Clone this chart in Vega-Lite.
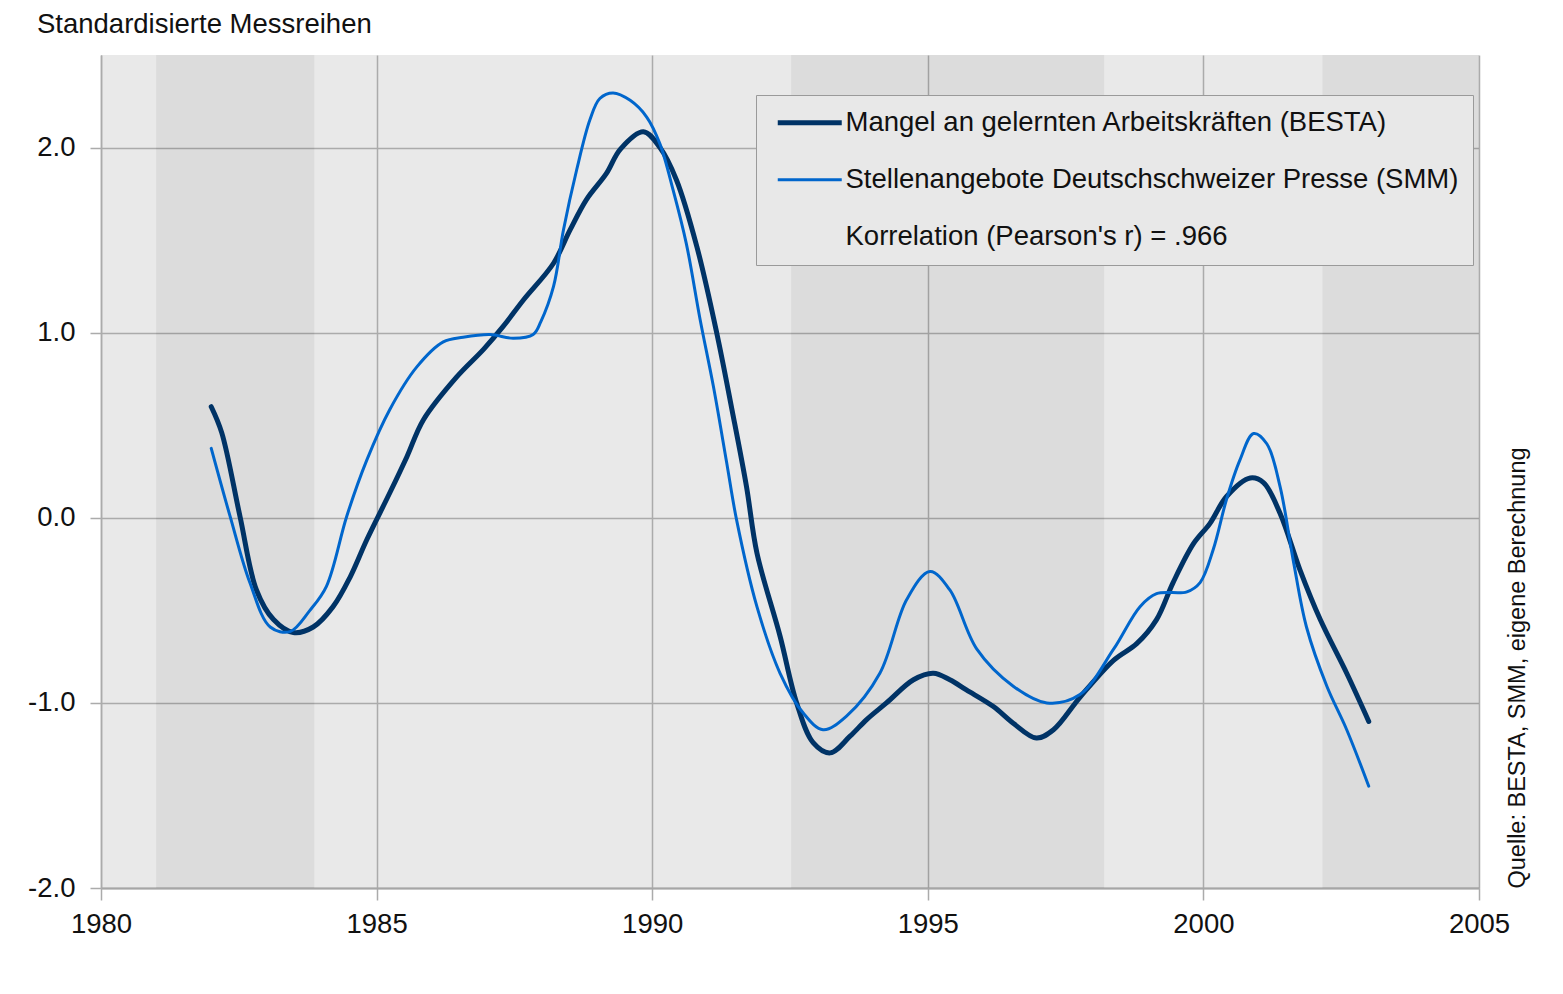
{
  "$schema": "https://vega.github.io/schema/vega-lite/v6.json",
  "width": 1378,
  "height": 833,
  "autosize": {"type": "none"},
  "padding": {"left": 101, "top": 55, "right": 84, "bottom": 106},
  "background": "white",
  "config": {
    "font": "Liberation Sans",
    "view": {"fill": "#e9e9e9", "stroke": null}
  },
  "title": {
    "text": "Standardisierte Messreihen",
    "anchor": "start",
    "frame": "group",
    "dx": -64,
    "dy": 25,
    "offset": 20,
    "baseline": "alphabetic",
    "fontSize": 27.5,
    "fontWeight": "normal",
    "color": "#111111"
  },
  "datasets": {
    "bands": [
      {"start": 1981.0, "end": 1983.87},
      {"start": 1992.52, "end": 1998.2},
      {"start": 2002.16, "end": 2005.0}
    ],
    "lines": [
      {"series": "Mangel an gelernten Arbeitskräften (BESTA)", "year": 1982.0, "value": 0.6},
      {"series": "Mangel an gelernten Arbeitskräften (BESTA)", "year": 1982.19, "value": 0.46},
      {"series": "Mangel an gelernten Arbeitskräften (BESTA)", "year": 1982.52, "value": 0.01},
      {"series": "Mangel an gelernten Arbeitskräften (BESTA)", "year": 1982.82, "value": -0.39},
      {"series": "Mangel an gelernten Arbeitskräften (BESTA)", "year": 1983.13, "value": -0.55},
      {"series": "Mangel an gelernten Arbeitskräften (BESTA)", "year": 1983.49, "value": -0.62},
      {"series": "Mangel an gelernten Arbeitskräften (BESTA)", "year": 1983.85, "value": -0.59},
      {"series": "Mangel an gelernten Arbeitskräften (BESTA)", "year": 1984.21, "value": -0.48},
      {"series": "Mangel an gelernten Arbeitskräften (BESTA)", "year": 1984.52, "value": -0.32},
      {"series": "Mangel an gelernten Arbeitskräften (BESTA)", "year": 1984.82, "value": -0.12},
      {"series": "Mangel an gelernten Arbeitskräften (BESTA)", "year": 1985.24, "value": 0.135},
      {"series": "Mangel an gelernten Arbeitskräften (BESTA)", "year": 1985.55, "value": 0.33},
      {"series": "Mangel an gelernten Arbeitskräften (BESTA)", "year": 1985.85, "value": 0.53},
      {"series": "Mangel an gelernten Arbeitskräften (BESTA)", "year": 1986.45, "value": 0.76},
      {"series": "Mangel an gelernten Arbeitskräften (BESTA)", "year": 1986.94, "value": 0.91},
      {"series": "Mangel an gelernten Arbeitskräften (BESTA)", "year": 1987.3, "value": 1.035},
      {"series": "Mangel an gelernten Arbeitskräften (BESTA)", "year": 1987.66, "value": 1.175},
      {"series": "Mangel an gelernten Arbeitskräften (BESTA)", "year": 1988.21, "value": 1.375},
      {"series": "Mangel an gelernten Arbeitskräften (BESTA)", "year": 1988.51, "value": 1.555},
      {"series": "Mangel an gelernten Arbeitskräften (BESTA)", "year": 1988.81, "value": 1.72},
      {"series": "Mangel an gelernten Arbeitskräften (BESTA)", "year": 1989.17, "value": 1.86},
      {"series": "Mangel an gelernten Arbeitskräften (BESTA)", "year": 1989.42, "value": 1.99},
      {"series": "Mangel an gelernten Arbeitskräften (BESTA)", "year": 1989.84, "value": 2.085},
      {"series": "Mangel an gelernten Arbeitskräften (BESTA)", "year": 1990.14, "value": 2.0},
      {"series": "Mangel an gelernten Arbeitskräften (BESTA)", "year": 1990.44, "value": 1.825},
      {"series": "Mangel an gelernten Arbeitskräften (BESTA)", "year": 1990.81, "value": 1.465},
      {"series": "Mangel an gelernten Arbeitskräften (BESTA)", "year": 1991.17, "value": 1.0},
      {"series": "Mangel an gelernten Arbeitskräften (BESTA)", "year": 1991.45, "value": 0.58},
      {"series": "Mangel an gelernten Arbeitskräften (BESTA)", "year": 1991.71, "value": 0.17},
      {"series": "Mangel an gelernten Arbeitskräften (BESTA)", "year": 1991.9, "value": -0.19},
      {"series": "Mangel an gelernten Arbeitskräften (BESTA)", "year": 1992.32, "value": -0.64},
      {"series": "Mangel an gelernten Arbeitskräften (BESTA)", "year": 1992.62, "value": -1.0},
      {"series": "Mangel an gelernten Arbeitskräften (BESTA)", "year": 1992.92, "value": -1.215},
      {"series": "Mangel an gelernten Arbeitskräften (BESTA)", "year": 1993.23, "value": -1.27},
      {"series": "Mangel an gelernten Arbeitskräften (BESTA)", "year": 1993.59, "value": -1.18},
      {"series": "Mangel an gelernten Arbeitskräften (BESTA)", "year": 1993.89, "value": -1.09},
      {"series": "Mangel an gelernten Arbeitskräften (BESTA)", "year": 1994.25, "value": -1.0},
      {"series": "Mangel an gelernten Arbeitskräften (BESTA)", "year": 1994.74, "value": -0.875},
      {"series": "Mangel an gelernten Arbeitskräften (BESTA)", "year": 1995.1, "value": -0.84},
      {"series": "Mangel an gelernten Arbeitskräften (BESTA)", "year": 1995.4, "value": -0.875},
      {"series": "Mangel an gelernten Arbeitskräften (BESTA)", "year": 1995.7, "value": -0.93},
      {"series": "Mangel an gelernten Arbeitskräften (BESTA)", "year": 1996.19, "value": -1.02},
      {"series": "Mangel an gelernten Arbeitskräften (BESTA)", "year": 1996.55, "value": -1.11},
      {"series": "Mangel an gelernten Arbeitskräften (BESTA)", "year": 1996.97, "value": -1.19},
      {"series": "Mangel an gelernten Arbeitskräften (BESTA)", "year": 1997.28, "value": -1.145},
      {"series": "Mangel an gelernten Arbeitskräften (BESTA)", "year": 1997.76, "value": -0.97},
      {"series": "Mangel an gelernten Arbeitskräften (BESTA)", "year": 1998.37, "value": -0.77},
      {"series": "Mangel an gelernten Arbeitskräften (BESTA)", "year": 1998.79, "value": -0.68},
      {"series": "Mangel an gelernten Arbeitskräften (BESTA)", "year": 1999.15, "value": -0.55},
      {"series": "Mangel an gelernten Arbeitskräften (BESTA)", "year": 1999.45, "value": -0.35},
      {"series": "Mangel an gelernten Arbeitskräften (BESTA)", "year": 1999.82, "value": -0.14},
      {"series": "Mangel an gelernten Arbeitskräften (BESTA)", "year": 2000.12, "value": -0.03},
      {"series": "Mangel an gelernten Arbeitskräften (BESTA)", "year": 2000.42, "value": 0.115},
      {"series": "Mangel an gelernten Arbeitskräften (BESTA)", "year": 2000.85, "value": 0.215},
      {"series": "Mangel an gelernten Arbeitskräften (BESTA)", "year": 2001.09, "value": 0.19},
      {"series": "Mangel an gelernten Arbeitskräften (BESTA)", "year": 2001.39, "value": 0.025},
      {"series": "Mangel an gelernten Arbeitskräften (BESTA)", "year": 2001.75, "value": -0.28},
      {"series": "Mangel an gelernten Arbeitskräften (BESTA)", "year": 2002.12, "value": -0.55},
      {"series": "Mangel an gelernten Arbeitskräften (BESTA)", "year": 2002.6, "value": -0.84},
      {"series": "Mangel an gelernten Arbeitskräften (BESTA)", "year": 2003.0, "value": -1.1},
      {"series": "Stellenangebote Deutschschweizer Presse (SMM)", "year": 1982.0, "value": 0.375},
      {"series": "Stellenangebote Deutschschweizer Presse (SMM)", "year": 1982.34, "value": 0.01},
      {"series": "Stellenangebote Deutschschweizer Presse (SMM)", "year": 1982.7, "value": -0.35},
      {"series": "Stellenangebote Deutschschweizer Presse (SMM)", "year": 1983.07, "value": -0.59},
      {"series": "Stellenangebote Deutschschweizer Presse (SMM)", "year": 1983.43, "value": -0.615},
      {"series": "Stellenangebote Deutschschweizer Presse (SMM)", "year": 1983.79, "value": -0.5},
      {"series": "Stellenangebote Deutschschweizer Presse (SMM)", "year": 1984.09, "value": -0.37},
      {"series": "Stellenangebote Deutschschweizer Presse (SMM)", "year": 1984.46, "value": 0.01},
      {"series": "Stellenangebote Deutschschweizer Presse (SMM)", "year": 1984.82, "value": 0.31},
      {"series": "Stellenangebote Deutschschweizer Presse (SMM)", "year": 1985.24, "value": 0.585},
      {"series": "Stellenangebote Deutschschweizer Presse (SMM)", "year": 1985.73, "value": 0.815},
      {"series": "Stellenangebote Deutschschweizer Presse (SMM)", "year": 1986.21, "value": 0.95},
      {"series": "Stellenangebote Deutschschweizer Presse (SMM)", "year": 1986.57, "value": 0.975},
      {"series": "Stellenangebote Deutschschweizer Presse (SMM)", "year": 1987.06, "value": 0.99},
      {"series": "Stellenangebote Deutschschweizer Presse (SMM)", "year": 1987.48, "value": 0.97},
      {"series": "Stellenangebote Deutschschweizer Presse (SMM)", "year": 1987.84, "value": 0.99},
      {"series": "Stellenangebote Deutschschweizer Presse (SMM)", "year": 1987.98, "value": 1.06},
      {"series": "Stellenangebote Deutschschweizer Presse (SMM)", "year": 1988.21, "value": 1.25},
      {"series": "Stellenangebote Deutschschweizer Presse (SMM)", "year": 1988.39, "value": 1.555},
      {"series": "Stellenangebote Deutschschweizer Presse (SMM)", "year": 1988.63, "value": 1.88},
      {"series": "Stellenangebote Deutschschweizer Presse (SMM)", "year": 1988.87, "value": 2.15},
      {"series": "Stellenangebote Deutschschweizer Presse (SMM)", "year": 1989.05, "value": 2.265},
      {"series": "Stellenangebote Deutschschweizer Presse (SMM)", "year": 1989.29, "value": 2.295},
      {"series": "Stellenangebote Deutschschweizer Presse (SMM)", "year": 1989.6, "value": 2.255},
      {"series": "Stellenangebote Deutschschweizer Presse (SMM)", "year": 1989.9, "value": 2.165},
      {"series": "Stellenangebote Deutschschweizer Presse (SMM)", "year": 1990.14, "value": 2.02},
      {"series": "Stellenangebote Deutschschweizer Presse (SMM)", "year": 1990.38, "value": 1.77},
      {"series": "Stellenangebote Deutschschweizer Presse (SMM)", "year": 1990.62, "value": 1.48},
      {"series": "Stellenangebote Deutschschweizer Presse (SMM)", "year": 1990.87, "value": 1.07},
      {"series": "Stellenangebote Deutschschweizer Presse (SMM)", "year": 1991.11, "value": 0.71},
      {"series": "Stellenangebote Deutschschweizer Presse (SMM)", "year": 1991.35, "value": 0.3},
      {"series": "Stellenangebote Deutschschweizer Presse (SMM)", "year": 1991.53, "value": -0.01},
      {"series": "Stellenangebote Deutschschweizer Presse (SMM)", "year": 1991.9, "value": -0.48},
      {"series": "Stellenangebote Deutschschweizer Presse (SMM)", "year": 1992.32, "value": -0.84},
      {"series": "Stellenangebote Deutschschweizer Presse (SMM)", "year": 1992.74, "value": -1.055},
      {"series": "Stellenangebote Deutschschweizer Presse (SMM)", "year": 1993.1, "value": -1.145},
      {"series": "Stellenangebote Deutschschweizer Presse (SMM)", "year": 1993.53, "value": -1.07},
      {"series": "Stellenangebote Deutschschweizer Presse (SMM)", "year": 1994.13, "value": -0.84},
      {"series": "Stellenangebote Deutschschweizer Presse (SMM)", "year": 1994.62, "value": -0.44},
      {"series": "Stellenangebote Deutschschweizer Presse (SMM)", "year": 1995.04, "value": -0.29},
      {"series": "Stellenangebote Deutschschweizer Presse (SMM)", "year": 1995.4, "value": -0.39},
      {"series": "Stellenangebote Deutschschweizer Presse (SMM)", "year": 1995.89, "value": -0.71},
      {"series": "Stellenangebote Deutschschweizer Presse (SMM)", "year": 1996.55, "value": -0.91},
      {"series": "Stellenangebote Deutschschweizer Presse (SMM)", "year": 1997.16, "value": -1.0},
      {"series": "Stellenangebote Deutschschweizer Presse (SMM)", "year": 1997.76, "value": -0.955},
      {"series": "Stellenangebote Deutschschweizer Presse (SMM)", "year": 1998.37, "value": -0.71},
      {"series": "Stellenangebote Deutschschweizer Presse (SMM)", "year": 1998.85, "value": -0.48},
      {"series": "Stellenangebote Deutschschweizer Presse (SMM)", "year": 1999.15, "value": -0.41},
      {"series": "Stellenangebote Deutschschweizer Presse (SMM)", "year": 1999.7, "value": -0.4},
      {"series": "Stellenangebote Deutschschweizer Presse (SMM)", "year": 1999.94, "value": -0.35},
      {"series": "Stellenangebote Deutschschweizer Presse (SMM)", "year": 2000.18, "value": -0.17},
      {"series": "Stellenangebote Deutschschweizer Presse (SMM)", "year": 2000.42, "value": 0.1},
      {"series": "Stellenangebote Deutschschweizer Presse (SMM)", "year": 2000.66, "value": 0.31},
      {"series": "Stellenangebote Deutschschweizer Presse (SMM)", "year": 2000.91, "value": 0.455},
      {"series": "Stellenangebote Deutschschweizer Presse (SMM)", "year": 2001.15, "value": 0.4},
      {"series": "Stellenangebote Deutschschweizer Presse (SMM)", "year": 2001.39, "value": 0.17},
      {"series": "Stellenangebote Deutschschweizer Presse (SMM)", "year": 2001.63, "value": -0.23},
      {"series": "Stellenangebote Deutschschweizer Presse (SMM)", "year": 2001.87, "value": -0.59},
      {"series": "Stellenangebote Deutschschweizer Presse (SMM)", "year": 2002.24, "value": -0.91},
      {"series": "Stellenangebote Deutschschweizer Presse (SMM)", "year": 2002.6, "value": -1.145},
      {"series": "Stellenangebote Deutschschweizer Presse (SMM)", "year": 2003.0, "value": -1.45}
    ]
  },
  "layer": [
    {
      "data": {"name": "bands"},
      "mark": {"type": "rect", "fill": "#000000", "opacity": 0.056},
      "encoding": {
        "x": {
          "field": "start",
          "type": "quantitative",
          "scale": {"domain": [1980, 2005], "nice": false, "zero": false},
          "axis": {
            "title": null,
            "values": [1980, 1985, 1990, 1995, 2000, 2005],
            "format": "d",
            "grid": true,
            "gridColor": "#ababab",
            "gridWidth": 1.5,
            "tickColor": "#ababab",
            "tickWidth": 1.5,
            "tickSize": 12,
            "domainColor": "#a6a6a6",
            "domainWidth": 2,
            "labelFontSize": 27.5,
            "labelColor": "#111111",
            "labelPadding": 10,
            "labelFlush": false,
            "labelOverlap": false,
            "labelBound": false
          }
        },
        "x2": {"field": "end"}
      }
    },
    {
      "data": {"name": "lines"},
      "transform": [{"filter": {"field": "series", "equal": "Mangel an gelernten Arbeitskräften (BESTA)"}}],
      "mark": {"type": "line", "strokeWidth": 5, "interpolate": "catmull-rom", "strokeCap": "round", "strokeJoin": "round"},
      "encoding": {
        "x": {"field": "year", "type": "quantitative", "title": null},
        "y": {
          "field": "value",
          "type": "quantitative",
          "scale": {"domain": [-2, 2.5], "nice": false, "zero": false},
          "axis": {
            "orient": "left",
            "title": null,
            "values": [-2, -1, 0, 1, 2],
            "labelExpr": "replace(format(datum.value, '.1f'), '\u2212', '-')",
            "grid": true,
            "gridColor": "#ababab",
            "gridWidth": 1.5,
            "tickColor": "#ababab",
            "tickWidth": 1.5,
            "tickSize": 11,
            "domainColor": "#ababab",
            "domainWidth": 1.5,
            "labelFontSize": 27.5,
            "labelColor": "#111111",
            "labelPadding": 15
          }
        },
        "color": {
          "field": "series",
          "type": "nominal",
          "scale": {
            "domain": ["Mangel an gelernten Arbeitskräften (BESTA)", "Stellenangebote Deutschschweizer Presse (SMM)", "Korrelation (Pearson's r) = .966"],
            "range": ["#003366", "#0066cc", "rgba(0,0,0,0)"]
          },
          "legend": {
            "title": null,
            "orient": "none",
            "legendX": 655,
            "legendY": 40,
            "symbolType": "stroke",
            "symbolSize": 4096,
            "symbolOffset": 26,
            "symbolStrokeWidth": 4,
            "labelFontSize": 27.5,
            "labelLimit": 900,
            "labelColor": "#111111",
            "labelOffset": 22,
            "fillColor": "#e8e8e8",
            "strokeColor": "#9a9a9a",
            "padding": 14,
            "rowPadding": 28,
            "encode": {
              "symbols": {"update": {"strokeWidth": {"signal": "datum.index === 0 ? 5 : 3"}}}
            }
          }
        }
      }
    },
    {
      "data": {"name": "lines"},
      "transform": [{"filter": {"field": "series", "equal": "Stellenangebote Deutschschweizer Presse (SMM)"}}],
      "mark": {"type": "line", "strokeWidth": 3, "interpolate": "catmull-rom", "strokeCap": "round", "strokeJoin": "round"},
      "encoding": {
        "x": {"field": "year", "type": "quantitative", "title": null},
        "y": {
          "field": "value",
          "type": "quantitative",
          "axis": {
            "orient": "right",
            "title": "Quelle: BESTA, SMM, eigene Berechnung",
            "labels": false,
            "ticks": false,
            "domain": false,
            "grid": false,
            "titleFontSize": 23.5,
            "titleFontWeight": "normal",
            "titleColor": "#111111",
            "titleAngle": 270,
            "titleX": 38,
            "titleY": 833,
            "titleAlign": "left",
            "titleBaseline": "middle"
          }
        },
        "color": {"field": "series", "type": "nominal"}
      }
    }
  ],
  "resolve": {"axis": {"y": "independent"}}
}
